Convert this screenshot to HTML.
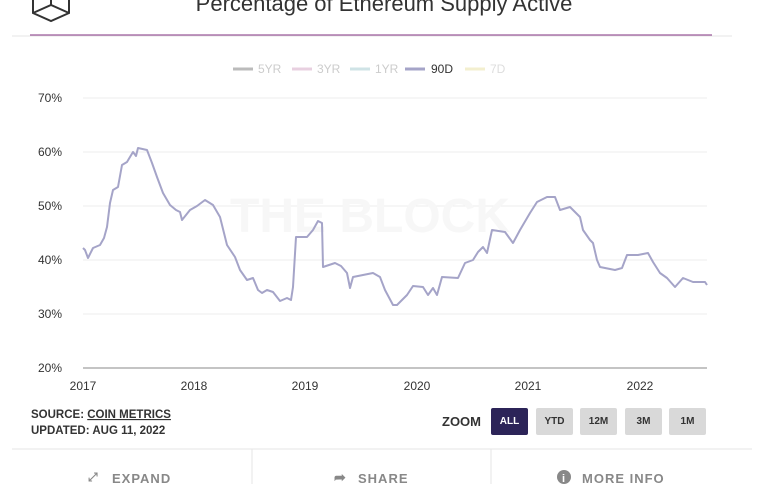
<!DOCTYPE html>
<html><head><meta charset="utf-8"><style>
body{margin:0;width:764px;height:484px;background:#fff;overflow:hidden;font-family:"Liberation Sans",sans-serif;position:relative}
.a{position:absolute}
.btn{position:absolute;top:408px;width:37px;height:27px;background:#d9d9d9;color:#333;font-size:10px;font-weight:bold;text-align:center;line-height:27px;border-radius:2px}
</style></head><body>
<svg class="a" style="left:0;top:0" width="764" height="484">
<path d="M33 0 L33 13 L51 21 L69 13 L69 0 M33 13 L51 5 L69 13 M51 5 L51 0" fill="none" stroke="#333" stroke-width="2"/>
<line x1="12" y1="36" x2="732" y2="36" stroke="#e6e6e6"/>
<line x1="30" y1="35" x2="712" y2="35" stroke="#9b5a9a" stroke-width="1.2"/>
<g stroke="#ececec" stroke-width="1">
<line x1="83" y1="98" x2="707" y2="98"/><line x1="83" y1="152" x2="707" y2="152"/><line x1="83" y1="206" x2="707" y2="206"/><line x1="83" y1="260" x2="707" y2="260"/><line x1="83" y1="314" x2="707" y2="314"/></g>
<line x1="83" y1="368" x2="707" y2="368" stroke="#888"/>
<text x="370" y="232" font-size="48" font-weight="bold" fill="#f7f7f7" text-anchor="middle" font-family="Liberation Sans">THE BLOCK</text>
<polyline fill="none" stroke="#a5a4c8" stroke-width="2" stroke-linejoin="round" points="83,248 85,250 88,258 93,248 100,245 104,238 107,227 110,203 113,190 118,187 122,165 127,162 133,152 136,156 138,148 147,150 152,163 157,177 163,193 170,205 176,210 180,212 182,220 190,210 197,206 205,200 213,205 220,217 227,245 235,257 240,270 247,280 253,278 258,290 262,293 267,290 273,292 280,301 287,298 291,300 293,287 296,237 307,237 313,230 318,221 322,223 323,267 335,263 341,266 347,273 350,288 353,277 363,275 373,273 380,277 385,290 393,305 397,305 402,300 407,295 413,286 423,287 428,295 433,288 437,295 442,277 458,278 465,263 473,260 478,252 483,247 487,253 492,230 505,232 513,243 520,230 530,213 537,202 547,197 555,197 560,210 570,207 580,217 583,230 590,240 593,243 597,260 600,267 615,270 622,268 627,255 638,255 648,253 653,262 660,273 667,278 675,287 683,278 693,282 705,282 707,285"/>
<g font-size="12" fill="#333" font-family="Liberation Sans">
<text x="38" y="102">70%</text><text x="38" y="156">60%</text><text x="38" y="210">50%</text><text x="38" y="264">40%</text><text x="38" y="318">30%</text><text x="38" y="372">20%</text>
<g text-anchor="middle"><text x="83" y="390">2017</text><text x="194" y="390">2018</text><text x="305" y="390">2019</text><text x="417" y="390">2020</text><text x="528" y="390">2021</text><text x="640" y="390">2022</text></g>
</g>
<g font-size="12" font-family="Liberation Sans">
<line x1="233" y1="69" x2="253" y2="69" stroke="#bbb" stroke-width="3"/><text x="258" y="73" fill="#ccc">5YR</text>
<line x1="292" y1="69" x2="312" y2="69" stroke="#e8d0e0" stroke-width="3"/><text x="317" y="73" fill="#ccc">3YR</text>
<line x1="350" y1="69" x2="370" y2="69" stroke="#cfe3e6" stroke-width="3"/><text x="375" y="73" fill="#ccc">1YR</text>
<line x1="405" y1="69" x2="425" y2="69" stroke="#a5a4c8" stroke-width="3"/><text x="431" y="73" fill="#333">90D</text>
<line x1="465" y1="69" x2="485" y2="69" stroke="#f3efcf" stroke-width="3"/><text x="490" y="73" fill="#ddd">7D</text>
</g>
<g font-size="11.5" font-weight="bold" fill="#333" font-family="Liberation Sans">
<text x="31" y="418">SOURCE: <tspan text-decoration="underline">COIN METRICS</tspan></text>
<text x="31" y="434">UPDATED: AUG 11, 2022</text>
<text x="442" y="426" font-size="13">ZOOM</text>
</g>
<line x1="12" y1="449" x2="752" y2="449" stroke="#e6e6e6"/>
<line x1="252" y1="449" x2="252" y2="484" stroke="#e6e6e6"/>
<line x1="491" y1="449" x2="491" y2="484" stroke="#e6e6e6"/>
<g font-size="13" font-weight="bold" fill="#888" font-family="Liberation Sans" letter-spacing="1">
<text x="112" y="483">EXPAND</text><text x="358" y="483">SHARE</text><text x="582" y="483">MORE INFO</text>
<text x="88" y="481" font-size="12">⤢</text><text x="334" y="482" font-size="14">➦</text>
<circle cx="564" cy="477" r="7" fill="#888"/><text x="562" y="482" font-size="11" fill="#fff">i</text>
</g>
</svg>
<div class="btn" style="left:491px;background:#2c2458;color:#fff">ALL</div>
<div class="btn" style="left:536px">YTD</div>
<div class="btn" style="left:580px">12M</div>
<div class="btn" style="left:625px">3M</div>
<div class="btn" style="left:669px">1M</div>
<div class="a" style="left:134px;top:-9px;width:500px;text-align:center;font-size:22px;color:#333">Percentage of Ethereum Supply Active</div>
</body></html>
